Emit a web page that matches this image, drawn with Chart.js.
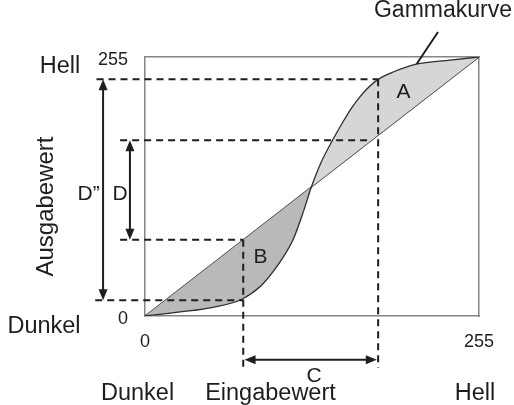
<!DOCTYPE html>
<html>
<head>
<meta charset="utf-8">
<title>Gammakurve</title>
<script src="https://cdn.jsdelivr.net/npm/chart.js@4.4.1/dist/chart.umd.min.js"></script>
<style>
body { margin: 0; background: #ffffff; }
canvas { display: block; }
</style>
</head>
<body>
<canvas id="chart" width="514" height="405"></canvas>
<script>
// ----------------------------------------------------------------------
//	Gammakurve: Eingabewert -> Ausgabewert
// ----------------------------------------------------------------------
const curve_x = [0, 27, 52, 74, 88, 95, 103, 113, 121, 127, 134, 144, 152, 157, 163, 169, 178, 190, 207, 233, 255]
const curve_y = [0, 4, 8.5, 16.5, 29, 39, 53, 75, 103, 127, 150, 175, 193, 203.5, 214, 223, 233, 240.5, 248, 252, 255]

const diagonal_x = [0, 255]
const diagonal_y = [0, 255]

const tick_values = [0, 255]

// input levels (B, A) and output levels of the guide lines
const input_levels = [75, 178]
const output_levels = [15.5, 75, 173, 233]

const font_family = '"Liberation Sans", Arial, Helvetica, sans-serif'
const ink = '#1e1e1e'

// ----------------------------------------------------------------------
function points (xs, ys)
{
	return xs.map (function (x, i) { return {x: x, y: ys[i]} })
}

function guide (x1, y1, x2, y2)
{
	return {
		data: [{x: x1, y: y1}, {x: x2, y: y2}],
		showLine: true,
		borderColor: ink,
		borderWidth: 2,
		borderDash: [7, 5],
		pointRadius: 0,
		fill: false,
		clip: false
		}
}

// ----------------------------------------------------------------------
const xin = input_levels
const yout = output_levels

const guides = [
	guide (-38, yout[0], xin[0], yout[0]),
	guide (-19, yout[1], xin[0], yout[1]),
	guide (xin[0], yout[1], xin[0], -51),
	guide (-19, yout[2], yout[2], yout[2]),
	guide (-37, yout[3], xin[1], yout[3]),
	guide (xin[1], yout[3], xin[1], -51)
	]

// arrows: D", D, C
const arrows = [
	[-32, yout[3], -32, yout[0]],
	[-11.5, yout[2], -11.5, yout[1]],
	[xin[0] + 1, -43, xin[1] - 1, -43]
	]

// text: [text, x, y, size, rotated]
const texts = [
	["Gammakurve", 227.5, 294.4, 23, false],
	["Hell", -64.9, 239.5, 23.5, false],
	["Ausgabewert", -70.2, 107.8, 24, true],
	["D\u201D", -43.1, 114.2, 21, false],
	["D", -19.1, 114.2, 21, false],
	["Dunkel", -77.1, -17, 23.5, false],
	["A", 197.4, 214.6, 21, false],
	["B", 88.2, 52.2, 21, false],
	["C", 129, -65, 21, false],
	["Dunkel", -5.7, -82.7, 23.5, false],
	["Eingabewert", 95.8, -82.7, 23.5, false],
	["Hell", 252, -82.7, 23.5, false]
	]

// ----------------------------------------------------------------------
const annotate = {
	id: 'annotate',
	afterDatasetsDraw (chart)
	{
	const ctx = chart.ctx
	const sx = chart.scales.x
	const sy = chart.scales.y
	ctx.save ()
	ctx.strokeStyle = ink
	ctx.fillStyle = ink
	ctx.lineWidth = 2
	for (const a of arrows)
		{
		const x1 = sx.getPixelForValue (a[0])
		const y1 = sy.getPixelForValue (a[1])
		const x2 = sx.getPixelForValue (a[2])
		const y2 = sy.getPixelForValue (a[3])
		const ang = Math.atan2 (y2 - y1, x2 - x1)
		const len = 11
		const half = 4.5
		ctx.beginPath ()
		ctx.moveTo (x1 + Math.cos (ang) * 4, y1 + Math.sin (ang) * 4)
		ctx.lineTo (x2 - Math.cos (ang) * 4, y2 - Math.sin (ang) * 4)
		ctx.stroke ()
		const heads = [[x2, y2, ang], [x1, y1, ang + Math.PI]]
		for (const h of heads)
			{
			const c = Math.cos (h[2])
			const s = Math.sin (h[2])
			ctx.beginPath ()
			ctx.moveTo (h[0], h[1])
			ctx.lineTo (h[0] - c * len - s * half, h[1] - s * len + c * half)
			ctx.lineTo (h[0] - c * len + s * half, h[1] - s * len - c * half)
			ctx.closePath ()
			ctx.fill ()
			}
		}

	ctx.textAlign = 'center'
	ctx.textBaseline = 'alphabetic'
	for (const t of texts)
		{
		ctx.font = t[3] + 'px ' + font_family
		const px = sx.getPixelForValue (t[1])
		const py = sy.getPixelForValue (t[2])
		if (t[4])
			{
			ctx.save ()
			ctx.translate (px, py)
			ctx.rotate (-Math.PI / 2)
			ctx.fillText (t[0], 0, 0)
			ctx.restore ()
			}
		else
			{
			ctx.fillText (t[0], px, py)
			}
		}
	ctx.restore ()
	}
}

// ----------------------------------------------------------------------
function fixed_ticks (scale)
{
	scale.ticks = tick_values.map (function (v) { return {value: v} })
}

const border_gray = '#858585'

const config = {
	type: 'scatter',
	data: {
		datasets: [
			{
			label: 'Gammakurve',
			data: points (curve_x, curve_y),
			showLine: true,
			cubicInterpolationMode: 'monotone',
			borderColor: '#2e2e2e',
			borderWidth: 1.3,
			pointRadius: 0,
			fill: {target: 1, above: '#d6d6d6', below: '#b9b9bb'},
			order: 1
			},
			{
			label: 'Linear',
			data: points (diagonal_x, diagonal_y),
			showLine: true,
			borderColor: '#2e2e2e',
			borderWidth: 1.3,
			pointRadius: 0,
			fill: false,
			order: 2
			},
			Object.assign (guide (223.7, 279.6, 207.4, 248.1), {borderDash: []})
			].concat (guides)
		},
	options: {
		responsive: false,
		animation: false,
		devicePixelRatio: 1,
		layout: {padding: {left: 0, top: 57, right: 35, bottom: 0}},
		plugins: {
			legend: {display: false},
			tooltip: {enabled: false}
			},
		scales: {
			x: {
				type: 'linear',
				position: 'bottom',
				min: 0,
				max: 255,
				afterBuildTicks: fixed_ticks,
				afterFit: function (scale) { scale.height = 89 },
				grid: {display: false, drawTicks: false},
				border: {display: true, color: border_gray, width: 1.5},
				ticks: {
					padding: 15,
					color: ink,
					font: {family: font_family, size: 18},
					callback: function (v) { return String (v) }
					}
				},
			y: {
				type: 'linear',
				position: 'left',
				min: 0,
				max: 255,
				afterBuildTicks: fixed_ticks,
				afterFit: function (scale) { scale.width = 145 },
				grid: {display: false, drawTicks: false},
				border: {display: true, color: border_gray, width: 1.5},
				ticks: {
					padding: 17,
					labelOffset: 3,
					color: ink,
					font: {family: font_family, size: 18},
					callback: function (v) { return String (v) }
					}
				},
			x2: {
				type: 'linear',
				position: 'top',
				min: 0,
				max: 255,
				afterFit: function (scale) { scale.height = 0 },
				grid: {display: false, drawTicks: false},
				border: {display: true, color: border_gray, width: 1.5},
				ticks: {display: false}
				},
			y2: {
				type: 'linear',
				position: 'right',
				min: 0,
				max: 255,
				afterFit: function (scale) { scale.width = 0 },
				grid: {display: false, drawTicks: false},
				border: {display: true, color: border_gray, width: 1.5},
				ticks: {display: false}
				}
			}
		},
	plugins: [annotate]
	}

const chart = new Chart (document.getElementById ('chart'), config)
</script>
</body>
</html>
